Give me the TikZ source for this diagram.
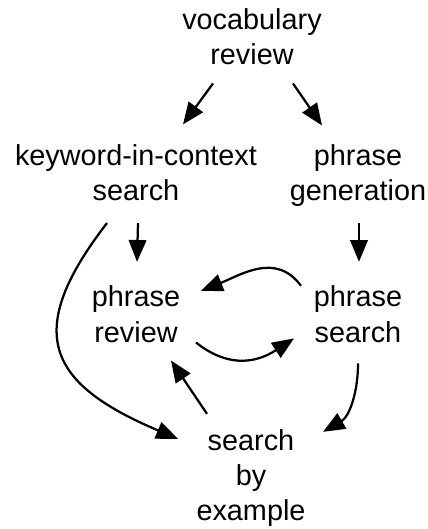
\documentclass[tikz,border=0pt]{standalone}
\usepackage{fontspec}
\setmainfont{Liberation Sans}
\usepackage{tikz}
\usetikzlibrary{arrows.meta, positioning, calc}

\tikzset{
  box/.style={align=center, inner sep=0pt, font=\fontsize{20.5}{25}\selectfont,
    execute at begin node=\strut, execute at end node=\strut},
  arr/.style={-{Triangle[length=15.5pt,width=12.5pt]}, line width=1.6pt}
}

\begin{document}
\begin{tikzpicture}[x=0.025cm,y=0.025cm]
\useasboundingbox (0,0) rectangle (428,529);
\node[box] (VR) at (252,487.5) {vocabulary\\review};
\node[box] (KS) at (136,351) {keyword-in-context\\search};
\node[box] (PG) at (358,351) {phrase\\generation};
\node[box, below=52.8pt of KS] (PR) {phrase\\review};
\node[box, below=52.8pt of PG] (PS) {phrase\\search};
\node[box] (SE) at (251,49) {search\\by\\example};

\draw[arr] ([shift={(-39,-8.4)}]VR.south) -- ([shift={(47,20)}]KS.north);
\draw[arr] ([shift={(41,-8.4)}]VR.south) -- ([shift={(-36,19)}]PG.north);
\draw[arr] ([shift={(2,-11.5)}]KS.south) -- ([shift={(1,24)}]PR.north);
\draw[arr] ([shift={(1,-11.5)}]PG.south) -- ([shift={(1,24)}]PS.north);
\draw[arr] ([shift={(-57,0)}]PS.north) .. controls +(-25,34) and +(40,16) .. ([shift={(65,-5)}]PR.north);
\draw[arr] ([shift={(60,10.5)}]PR.south) .. controls +(30,-24) and +(-40,-26) .. ([shift={(-64,14.5)}]PS.south);
\draw[arr] ([shift={(-29,-11.5)}]KS.south) .. controls +(-85,-110) and +(-130,55) .. ([shift={(-73,-10)}]SE.north);
\draw[arr] ([shift={(-44,15)}]SE.north) -- ([shift={(35,-7.5)}]PR.south);
\draw[arr] ([shift={(0,-10.5)}]PS.south) to[out=-90,in=30] ([shift={(72,-3)}]SE.north);
\end{tikzpicture}
\end{document}
